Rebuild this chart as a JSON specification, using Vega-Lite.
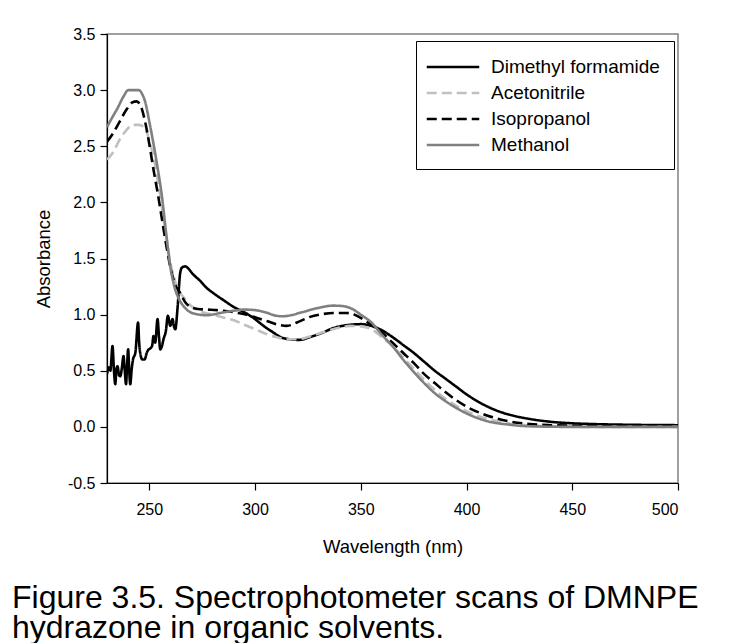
{
  "$schema": "https://vega.github.io/schema/vega-lite/v6.json",
  "width": 571,
  "height": 449,
  "autosize": {"type": "none"},
  "padding": {"left": 107, "top": 34, "right": 53, "bottom": 160},
  "background": "white",
  "title": {
    "text": ["Figure 3.5. Spectrophotometer scans of DMNPE", "hydrazone in organic solvents."],
    "orient": "bottom",
    "anchor": "start",
    "frame": "group",
    "dx": -95,
    "offset": 27,
    "font": "Liberation Sans",
    "fontSize": 32,
    "fontWeight": "normal",
    "lineHeight": 30,
    "color": "black"
  },
  "config": {
    "view": {"stroke": "#808080", "strokeWidth": 1.5},
    "font": "Liberation Sans",
    "axis": {
      "grid": false,
      "domainColor": "black",
      "domainWidth": 1.2,
      "tickColor": "black",
      "tickSize": 7,
      "tickWidth": 1.2,
      "labelFont": "Liberation Sans",
      "labelFontSize": 16,
      "labelColor": "black",
      "titleFont": "Liberation Sans",
      "titleFontSize": 18.5,
      "titleFontWeight": "normal",
      "titleColor": "black"
    },
    "legend": {
      "labelFont": "Liberation Sans",
      "labelFontSize": 19,
      "labelColor": "black",
      "labelLimit": 400
    }
  },
  "data": {
    "values": [
      {"s": "Dimethyl formamide", "w": 230, "a": 0.47},
      {"s": "Dimethyl formamide", "w": 230.8, "a": 0.53},
      {"s": "Dimethyl formamide", "w": 231.6, "a": 0.5},
      {"s": "Dimethyl formamide", "w": 232.6, "a": 0.72},
      {"s": "Dimethyl formamide", "w": 233.3, "a": 0.5},
      {"s": "Dimethyl formamide", "w": 233.9, "a": 0.38},
      {"s": "Dimethyl formamide", "w": 234.5, "a": 0.52},
      {"s": "Dimethyl formamide", "w": 235, "a": 0.54},
      {"s": "Dimethyl formamide", "w": 235.7, "a": 0.46},
      {"s": "Dimethyl formamide", "w": 236.3, "a": 0.45},
      {"s": "Dimethyl formamide", "w": 237, "a": 0.52},
      {"s": "Dimethyl formamide", "w": 237.8, "a": 0.63},
      {"s": "Dimethyl formamide", "w": 238.4, "a": 0.5},
      {"s": "Dimethyl formamide", "w": 239, "a": 0.38},
      {"s": "Dimethyl formamide", "w": 239.5, "a": 0.55},
      {"s": "Dimethyl formamide", "w": 240, "a": 0.69},
      {"s": "Dimethyl formamide", "w": 240.5, "a": 0.5},
      {"s": "Dimethyl formamide", "w": 241, "a": 0.38},
      {"s": "Dimethyl formamide", "w": 241.7, "a": 0.52},
      {"s": "Dimethyl formamide", "w": 242.3, "a": 0.6},
      {"s": "Dimethyl formamide", "w": 243.4, "a": 0.66},
      {"s": "Dimethyl formamide", "w": 244.7, "a": 0.93},
      {"s": "Dimethyl formamide", "w": 245.2, "a": 0.75},
      {"s": "Dimethyl formamide", "w": 245.7, "a": 0.66},
      {"s": "Dimethyl formamide", "w": 246.7, "a": 0.6},
      {"s": "Dimethyl formamide", "w": 247.8, "a": 0.6},
      {"s": "Dimethyl formamide", "w": 248.8, "a": 0.66},
      {"s": "Dimethyl formamide", "w": 249.7, "a": 0.69},
      {"s": "Dimethyl formamide", "w": 250.5, "a": 0.7},
      {"s": "Dimethyl formamide", "w": 251.3, "a": 0.72},
      {"s": "Dimethyl formamide", "w": 252, "a": 0.81},
      {"s": "Dimethyl formamide", "w": 252.8, "a": 0.75},
      {"s": "Dimethyl formamide", "w": 253.9, "a": 0.96},
      {"s": "Dimethyl formamide", "w": 254.6, "a": 0.8},
      {"s": "Dimethyl formamide", "w": 255.2, "a": 0.69},
      {"s": "Dimethyl formamide", "w": 256, "a": 0.72},
      {"s": "Dimethyl formamide", "w": 256.7, "a": 0.78},
      {"s": "Dimethyl formamide", "w": 257.8, "a": 0.85},
      {"s": "Dimethyl formamide", "w": 258.8, "a": 0.99},
      {"s": "Dimethyl formamide", "w": 259.9, "a": 0.9},
      {"s": "Dimethyl formamide", "w": 261, "a": 0.96},
      {"s": "Dimethyl formamide", "w": 261.6, "a": 0.9},
      {"s": "Dimethyl formamide", "w": 262.3, "a": 0.87},
      {"s": "Dimethyl formamide", "w": 263.4, "a": 1.07},
      {"s": "Dimethyl formamide", "w": 264.6, "a": 1.37},
      {"s": "Dimethyl formamide", "w": 265.5, "a": 1.42},
      {"s": "Dimethyl formamide", "w": 267, "a": 1.43},
      {"s": "Dimethyl formamide", "w": 268.5, "a": 1.41},
      {"s": "Dimethyl formamide", "w": 270.2, "a": 1.37},
      {"s": "Dimethyl formamide", "w": 274.1, "a": 1.3},
      {"s": "Dimethyl formamide", "w": 277, "a": 1.24},
      {"s": "Dimethyl formamide", "w": 280.4, "a": 1.19},
      {"s": "Dimethyl formamide", "w": 285, "a": 1.13},
      {"s": "Dimethyl formamide", "w": 289.8, "a": 1.07},
      {"s": "Dimethyl formamide", "w": 295, "a": 1.02},
      {"s": "Dimethyl formamide", "w": 299.3, "a": 0.97},
      {"s": "Dimethyl formamide", "w": 304, "a": 0.9},
      {"s": "Dimethyl formamide", "w": 308.7, "a": 0.84},
      {"s": "Dimethyl formamide", "w": 312, "a": 0.8},
      {"s": "Dimethyl formamide", "w": 316.6, "a": 0.78},
      {"s": "Dimethyl formamide", "w": 321, "a": 0.775},
      {"s": "Dimethyl formamide", "w": 326, "a": 0.8},
      {"s": "Dimethyl formamide", "w": 332, "a": 0.84},
      {"s": "Dimethyl formamide", "w": 337, "a": 0.88},
      {"s": "Dimethyl formamide", "w": 343, "a": 0.905},
      {"s": "Dimethyl formamide", "w": 350, "a": 0.915},
      {"s": "Dimethyl formamide", "w": 355, "a": 0.9},
      {"s": "Dimethyl formamide", "w": 360, "a": 0.86},
      {"s": "Dimethyl formamide", "w": 365, "a": 0.8},
      {"s": "Dimethyl formamide", "w": 370, "a": 0.73},
      {"s": "Dimethyl formamide", "w": 375, "a": 0.66},
      {"s": "Dimethyl formamide", "w": 380, "a": 0.58},
      {"s": "Dimethyl formamide", "w": 385, "a": 0.5},
      {"s": "Dimethyl formamide", "w": 390, "a": 0.43},
      {"s": "Dimethyl formamide", "w": 395, "a": 0.36},
      {"s": "Dimethyl formamide", "w": 400, "a": 0.29},
      {"s": "Dimethyl formamide", "w": 405, "a": 0.23},
      {"s": "Dimethyl formamide", "w": 410, "a": 0.18},
      {"s": "Dimethyl formamide", "w": 415, "a": 0.14},
      {"s": "Dimethyl formamide", "w": 420, "a": 0.11},
      {"s": "Dimethyl formamide", "w": 430, "a": 0.07},
      {"s": "Dimethyl formamide", "w": 440, "a": 0.045},
      {"s": "Dimethyl formamide", "w": 450, "a": 0.032},
      {"s": "Dimethyl formamide", "w": 460, "a": 0.025},
      {"s": "Dimethyl formamide", "w": 480, "a": 0.018},
      {"s": "Dimethyl formamide", "w": 500, "a": 0.015},

      {"s": "Acetonitrile", "w": 230, "a": 2.38},
      {"s": "Acetonitrile", "w": 233, "a": 2.45},
      {"s": "Acetonitrile", "w": 236, "a": 2.56},
      {"s": "Acetonitrile", "w": 239, "a": 2.64},
      {"s": "Acetonitrile", "w": 242, "a": 2.69},
      {"s": "Acetonitrile", "w": 245, "a": 2.69},
      {"s": "Acetonitrile", "w": 248, "a": 2.66},
      {"s": "Acetonitrile", "w": 250, "a": 2.55},
      {"s": "Acetonitrile", "w": 252, "a": 2.4},
      {"s": "Acetonitrile", "w": 254, "a": 2.2},
      {"s": "Acetonitrile", "w": 256, "a": 1.95},
      {"s": "Acetonitrile", "w": 258, "a": 1.7},
      {"s": "Acetonitrile", "w": 260, "a": 1.46},
      {"s": "Acetonitrile", "w": 262, "a": 1.31},
      {"s": "Acetonitrile", "w": 264, "a": 1.21},
      {"s": "Acetonitrile", "w": 266, "a": 1.16},
      {"s": "Acetonitrile", "w": 268, "a": 1.11},
      {"s": "Acetonitrile", "w": 271, "a": 1.06},
      {"s": "Acetonitrile", "w": 274, "a": 1.03},
      {"s": "Acetonitrile", "w": 280, "a": 1.0},
      {"s": "Acetonitrile", "w": 285, "a": 0.975},
      {"s": "Acetonitrile", "w": 290, "a": 0.95},
      {"s": "Acetonitrile", "w": 295, "a": 0.91},
      {"s": "Acetonitrile", "w": 300, "a": 0.87},
      {"s": "Acetonitrile", "w": 305, "a": 0.83},
      {"s": "Acetonitrile", "w": 310, "a": 0.8},
      {"s": "Acetonitrile", "w": 315, "a": 0.78},
      {"s": "Acetonitrile", "w": 320, "a": 0.78},
      {"s": "Acetonitrile", "w": 325, "a": 0.8},
      {"s": "Acetonitrile", "w": 330, "a": 0.83},
      {"s": "Acetonitrile", "w": 335, "a": 0.86},
      {"s": "Acetonitrile", "w": 340, "a": 0.885},
      {"s": "Acetonitrile", "w": 345, "a": 0.9},
      {"s": "Acetonitrile", "w": 350, "a": 0.895},
      {"s": "Acetonitrile", "w": 355, "a": 0.87},
      {"s": "Acetonitrile", "w": 360, "a": 0.8},
      {"s": "Acetonitrile", "w": 365, "a": 0.72},
      {"s": "Acetonitrile", "w": 370, "a": 0.62},
      {"s": "Acetonitrile", "w": 375, "a": 0.52},
      {"s": "Acetonitrile", "w": 380, "a": 0.42},
      {"s": "Acetonitrile", "w": 385, "a": 0.33},
      {"s": "Acetonitrile", "w": 390, "a": 0.25},
      {"s": "Acetonitrile", "w": 395, "a": 0.19},
      {"s": "Acetonitrile", "w": 400, "a": 0.14},
      {"s": "Acetonitrile", "w": 410, "a": 0.07},
      {"s": "Acetonitrile", "w": 420, "a": 0.03},
      {"s": "Acetonitrile", "w": 430, "a": 0.012},
      {"s": "Acetonitrile", "w": 440, "a": 0.005},
      {"s": "Acetonitrile", "w": 460, "a": 0.0},
      {"s": "Acetonitrile", "w": 500, "a": 0.0},

      {"s": "Isopropanol", "w": 230, "a": 2.54},
      {"s": "Isopropanol", "w": 233, "a": 2.62},
      {"s": "Isopropanol", "w": 236, "a": 2.72},
      {"s": "Isopropanol", "w": 239, "a": 2.82},
      {"s": "Isopropanol", "w": 242, "a": 2.89},
      {"s": "Isopropanol", "w": 244, "a": 2.9},
      {"s": "Isopropanol", "w": 246.5, "a": 2.83},
      {"s": "Isopropanol", "w": 248, "a": 2.72},
      {"s": "Isopropanol", "w": 250, "a": 2.52},
      {"s": "Isopropanol", "w": 252, "a": 2.29},
      {"s": "Isopropanol", "w": 254, "a": 2.08},
      {"s": "Isopropanol", "w": 256, "a": 1.85},
      {"s": "Isopropanol", "w": 258, "a": 1.62},
      {"s": "Isopropanol", "w": 260, "a": 1.42},
      {"s": "Isopropanol", "w": 262, "a": 1.28},
      {"s": "Isopropanol", "w": 264.7, "a": 1.19},
      {"s": "Isopropanol", "w": 267, "a": 1.11},
      {"s": "Isopropanol", "w": 269.4, "a": 1.07},
      {"s": "Isopropanol", "w": 273, "a": 1.05},
      {"s": "Isopropanol", "w": 277, "a": 1.045},
      {"s": "Isopropanol", "w": 282, "a": 1.04},
      {"s": "Isopropanol", "w": 287, "a": 1.03},
      {"s": "Isopropanol", "w": 292, "a": 1.015},
      {"s": "Isopropanol", "w": 296, "a": 1.0},
      {"s": "Isopropanol", "w": 301, "a": 0.97},
      {"s": "Isopropanol", "w": 306, "a": 0.94},
      {"s": "Isopropanol", "w": 311, "a": 0.91},
      {"s": "Isopropanol", "w": 315, "a": 0.9},
      {"s": "Isopropanol", "w": 321, "a": 0.94},
      {"s": "Isopropanol", "w": 326, "a": 0.98},
      {"s": "Isopropanol", "w": 332, "a": 1.005},
      {"s": "Isopropanol", "w": 337, "a": 1.015},
      {"s": "Isopropanol", "w": 343, "a": 1.015},
      {"s": "Isopropanol", "w": 347, "a": 1.0},
      {"s": "Isopropanol", "w": 350, "a": 0.97},
      {"s": "Isopropanol", "w": 355, "a": 0.91},
      {"s": "Isopropanol", "w": 360, "a": 0.84},
      {"s": "Isopropanol", "w": 365, "a": 0.75},
      {"s": "Isopropanol", "w": 370, "a": 0.66},
      {"s": "Isopropanol", "w": 375, "a": 0.57},
      {"s": "Isopropanol", "w": 380, "a": 0.47},
      {"s": "Isopropanol", "w": 385, "a": 0.39},
      {"s": "Isopropanol", "w": 390, "a": 0.31},
      {"s": "Isopropanol", "w": 395, "a": 0.24},
      {"s": "Isopropanol", "w": 400, "a": 0.18},
      {"s": "Isopropanol", "w": 410, "a": 0.1},
      {"s": "Isopropanol", "w": 420, "a": 0.05},
      {"s": "Isopropanol", "w": 430, "a": 0.025},
      {"s": "Isopropanol", "w": 440, "a": 0.015},
      {"s": "Isopropanol", "w": 450, "a": 0.01},
      {"s": "Isopropanol", "w": 470, "a": 0.006},
      {"s": "Isopropanol", "w": 500, "a": 0.005},

      {"s": "Methanol", "w": 230, "a": 2.67},
      {"s": "Methanol", "w": 232, "a": 2.74},
      {"s": "Methanol", "w": 235, "a": 2.84},
      {"s": "Methanol", "w": 238, "a": 2.95},
      {"s": "Methanol", "w": 240, "a": 3.0},
      {"s": "Methanol", "w": 245, "a": 3.0},
      {"s": "Methanol", "w": 247, "a": 2.95},
      {"s": "Methanol", "w": 248, "a": 2.9},
      {"s": "Methanol", "w": 250, "a": 2.72},
      {"s": "Methanol", "w": 252, "a": 2.52},
      {"s": "Methanol", "w": 254, "a": 2.3},
      {"s": "Methanol", "w": 256, "a": 2.05},
      {"s": "Methanol", "w": 258, "a": 1.72},
      {"s": "Methanol", "w": 260, "a": 1.42},
      {"s": "Methanol", "w": 262, "a": 1.24},
      {"s": "Methanol", "w": 264, "a": 1.14},
      {"s": "Methanol", "w": 266, "a": 1.08},
      {"s": "Methanol", "w": 268, "a": 1.04},
      {"s": "Methanol", "w": 271, "a": 1.01},
      {"s": "Methanol", "w": 277, "a": 0.995},
      {"s": "Methanol", "w": 285, "a": 1.02},
      {"s": "Methanol", "w": 290, "a": 1.035},
      {"s": "Methanol", "w": 295, "a": 1.045},
      {"s": "Methanol", "w": 300, "a": 1.04},
      {"s": "Methanol", "w": 305, "a": 1.02},
      {"s": "Methanol", "w": 310, "a": 0.99},
      {"s": "Methanol", "w": 313, "a": 0.985},
      {"s": "Methanol", "w": 317, "a": 0.995},
      {"s": "Methanol", "w": 322, "a": 1.02},
      {"s": "Methanol", "w": 330, "a": 1.06},
      {"s": "Methanol", "w": 337, "a": 1.08},
      {"s": "Methanol", "w": 342, "a": 1.075},
      {"s": "Methanol", "w": 346, "a": 1.05},
      {"s": "Methanol", "w": 350, "a": 1.0},
      {"s": "Methanol", "w": 355, "a": 0.93},
      {"s": "Methanol", "w": 360, "a": 0.82},
      {"s": "Methanol", "w": 365, "a": 0.72},
      {"s": "Methanol", "w": 370, "a": 0.6},
      {"s": "Methanol", "w": 375, "a": 0.49},
      {"s": "Methanol", "w": 380, "a": 0.39},
      {"s": "Methanol", "w": 385, "a": 0.3},
      {"s": "Methanol", "w": 390, "a": 0.23},
      {"s": "Methanol", "w": 395, "a": 0.17},
      {"s": "Methanol", "w": 400, "a": 0.12},
      {"s": "Methanol", "w": 410, "a": 0.05},
      {"s": "Methanol", "w": 420, "a": 0.02},
      {"s": "Methanol", "w": 430, "a": 0.005},
      {"s": "Methanol", "w": 450, "a": 0.0},
      {"s": "Methanol", "w": 500, "a": 0.0}
    ]
  },
  "mark": {"type": "line", "interpolate": "monotone", "strokeWidth": 2.6, "clip": true},
  "encoding": {
    "x": {
      "field": "w",
      "type": "quantitative",
      "scale": {"domain": [230, 500], "nice": false, "zero": false},
      "axis": {"values": [250, 300, 350, 400, 450, 500], "title": "Wavelength (nm)", "labelPadding": 11, "titlePadding": 20}
    },
    "y": {
      "field": "a",
      "type": "quantitative",
      "scale": {"domain": [-0.5, 3.5], "nice": false, "zero": false},
      "axis": {"values": [-0.5, 0, 0.5, 1, 1.5, 2, 2.5, 3, 3.5], "format": ".1f", "labelExpr": "replace(datum.label, '\u2212', '-')", "title": "Absorbance", "labelPadding": 5, "titlePadding": 14}
    },
    "color": {
      "field": "s",
      "type": "nominal",
      "scale": {
        "domain": ["Dimethyl formamide", "Acetonitrile", "Isopropanol", "Methanol"],
        "range": ["#000000", "#c0c0c0", "#000000", "#808080"]
      },
      "legend": {
        "title": null,
        "orient": "none",
        "legendX": 309,
        "legendY": 7,
        "strokeColor": "black",
        "fillColor": "white",
        "padding": 14,
        "symbolType": "M-2.5,0H2.5",
        "symbolSize": 441,
        "symbolOffset": 11,
        "symbolStrokeWidth": 2.6,
        "labelOffset": 26,
        "rowPadding": 4
      }
    },
    "strokeDash": {
      "field": "s",
      "type": "nominal",
      "scale": {
        "domain": ["Dimethyl formamide", "Acetonitrile", "Isopropanol", "Methanol"],
        "range": [[1, 0], [10, 5], [10, 5], [1, 0]]
      },
      "legend": {
        "title": null,
        "orient": "none",
        "legendX": 309,
        "legendY": 7,
        "strokeColor": "black",
        "fillColor": "white",
        "padding": 14,
        "symbolType": "M-2.5,0H2.5",
        "symbolSize": 441,
        "symbolOffset": 11,
        "symbolStrokeWidth": 2.6,
        "labelOffset": 26,
        "rowPadding": 4
      }
    }
  }
}
